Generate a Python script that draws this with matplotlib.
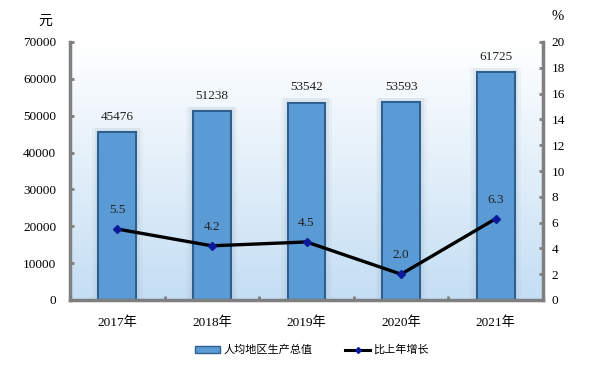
import numpy as np
import matplotlib
matplotlib.use('Agg')
import matplotlib.pyplot as plt
from matplotlib.patches import Patch
from matplotlib.lines import Line2D
from matplotlib.colors import LinearSegmentedColormap

plt.rcParams['font.family'] = ['Liberation Serif', 'Noto Sans CJK SC']

years = ['2017年', '2018年', '2019年', '2020年', '2021年']
gdp_per_capita = [45476, 51238, 53542, 53593, 61725]
growth = [5.5, 4.2, 4.5, 2.0, 6.3]
gdp_label = '人均地区生产总值'
growth_label = '比上年增长'

AXIS_GREY = '#7f7f7f'
BAR_FACE = '#5b9bd5'
BAR_EDGE = '#2f5f8f'

fig = plt.figure(figsize=(6.12, 3.68), dpi=100)
ax = fig.add_axes([70 / 612, 1 - 300 / 368, 473 / 612, 258 / 368])

# background gradient: white at top, light blue at bottom
grad = np.linspace(0, 1, 256).reshape(-1, 1)
cmap = LinearSegmentedColormap.from_list('bg', ['#c4def4', '#e2eff9', '#ffffff'])
ax.imshow(grad, aspect='auto', cmap=cmap, origin='lower',
          extent=[-0.5, 4.5, 0, 70000], zorder=0)

x = np.arange(len(years))
# soft halo around bars
for w, a in [(0.54, 0.12), (0.48, 0.18)]:
    ax.bar(x, [v + 1200 for v in gdp_per_capita], width=w, color='#a9bccc',
           alpha=a, zorder=1, linewidth=0)
ax.bar(x, gdp_per_capita, width=0.4, color=BAR_FACE, edgecolor=BAR_EDGE,
       linewidth=1.5, zorder=2)
for xi, v in zip(x, gdp_per_capita):
    ax.text(xi, v + 2500, str(v), ha='center', va='bottom', fontsize=9.5,
            color='#222222', zorder=5)

ax.set_xlim(-0.5, 4.5)
ax.set_ylim(0, 70000)
ax.set_yticks(range(0, 70001, 10000))
ax.set_xticks(x)
ax.set_xticklabels(years, fontsize=9.5)
ax.set_xticks(np.arange(0.5, 4.5, 1), minor=True)
ax.tick_params(axis='x', which='major', length=0, pad=12)
ax.tick_params(axis='x', which='minor', length=3, direction='in',
               color=AXIS_GREY, width=2)
ax.tick_params(axis='y', length=3, direction='in', color=AXIS_GREY,
               width=2, labelsize=9.5, pad=10)
for s in ['top', 'right']:
    ax.spines[s].set_visible(False)
for s in ['left', 'bottom']:
    ax.spines[s].set_color(AXIS_GREY)
    ax.spines[s].set_linewidth(2.5)

ax2 = ax.twinx()
ax2.set_ylim(0, 20)
ax2.set_yticks(range(0, 21, 2))
ax2.tick_params(axis='y', length=3, direction='in', color=AXIS_GREY,
                width=2, labelsize=9.5, pad=6)
for s in ['top', 'left', 'bottom']:
    ax2.spines[s].set_visible(False)
ax2.spines['right'].set_color(AXIS_GREY)
ax2.spines['right'].set_linewidth(2.5)
ax2.plot(x, growth, color='black', linewidth=2.4, marker='D', markersize=4,
         markerfacecolor='#0a1a9a', markeredgecolor='#0a1a9a', zorder=4)
for xi, v in zip(x, growth):
    ax2.text(xi, v + 1.0, f'{v:.1f}', ha='center', va='bottom', fontsize=9.5,
             color='#222222')

fig.text(45 / 612, 1 - 21 / 368, '元', ha='center', va='center', fontsize=10)
fig.text(558 / 612, 1 - 17 / 368, '%', ha='center', va='center', fontsize=10.5)

handles = [Patch(facecolor=BAR_FACE, edgecolor=BAR_EDGE, linewidth=1),
           Line2D([0], [0], color='black', linewidth=2.2, marker='D',
                  markersize=3, markerfacecolor='#0a1a9a',
                  markeredgecolor='#0a1a9a')]
fig.legend(handles, [gdp_label, growth_label], loc='center',
           bbox_to_anchor=(312 / 612, 1 - 350 / 368), ncol=2, frameon=False,
           handlelength=2.2, handleheight=0.6, columnspacing=3,
           handletextpad=0.3,
           prop={'family': ['Noto Sans CJK SC'], 'size': 8})

fig.savefig('out.png', dpi=100)
